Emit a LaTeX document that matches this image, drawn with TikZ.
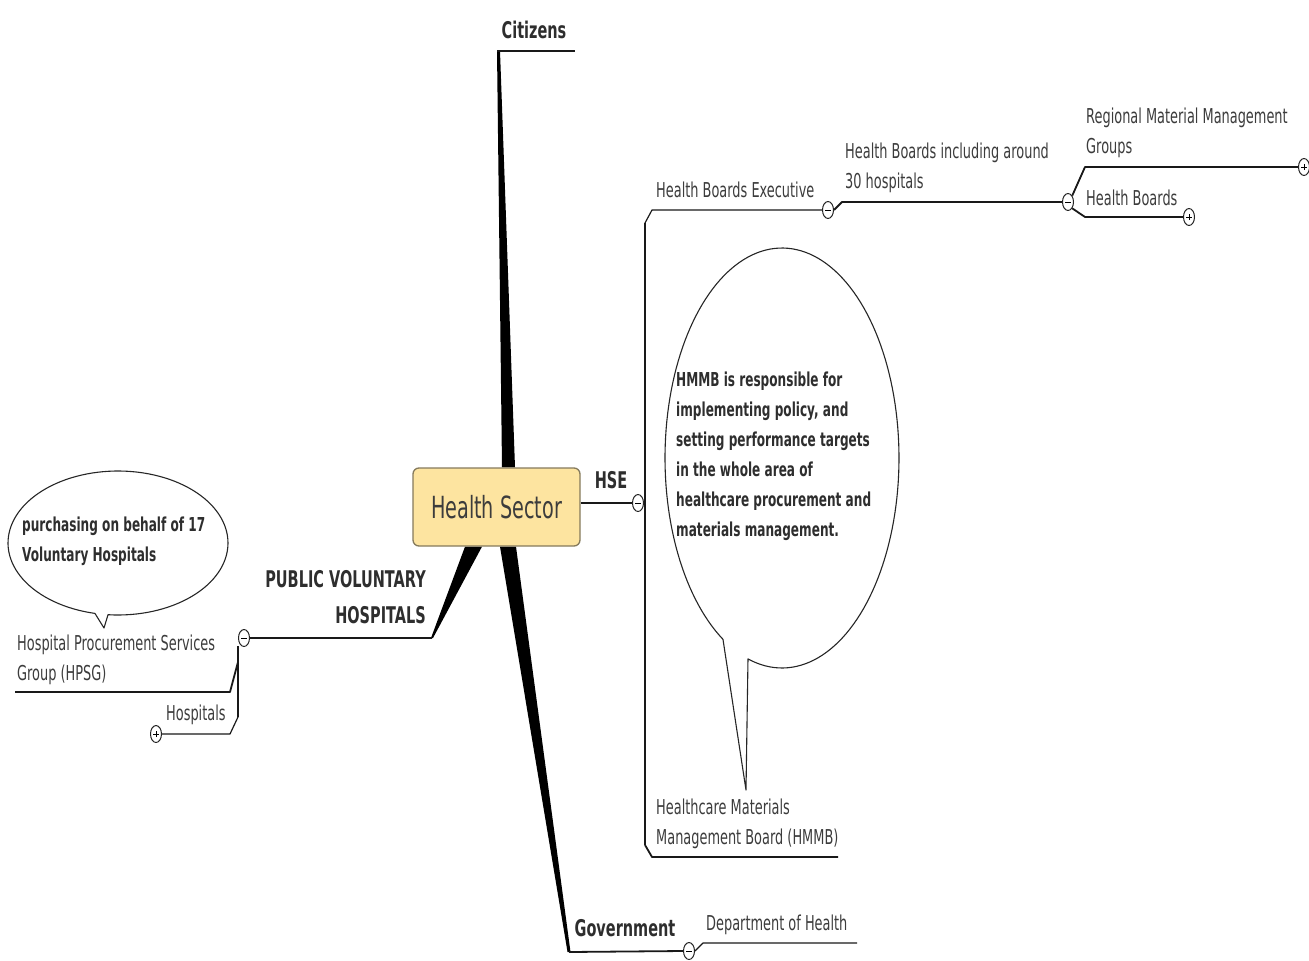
\documentclass[tikz,border=0pt]{standalone}
\usepackage{fontspec}
\setmainfont{DejaVu Sans}[FakeStretch=0.63, BoldFeatures={FakeStretch=0.63}]
\usetikzlibrary{shapes.geometric,backgrounds}
\definecolor{txt}{HTML}{2E2E2E}
\definecolor{subtxt}{HTML}{3C3C3C}
\definecolor{hsfill}{HTML}{FDE4A0}
\definecolor{hsline}{HTML}{857A5C}
\tikzset{
  conn/.style={draw=black!90, line width=1.8pt},
  thin conn/.style={draw=black!90, line width=1.2pt},
  branch/.style={fill=black},
  hub/.style={draw=hsline, fill=hsfill, rounded corners=6pt, line width=1.3pt,
    minimum width=167pt, minimum height=78pt, font=\fontsize{30.5}{34}\selectfont, text=subtxt},
  mainlab/.style={font=\bfseries\fontsize{23}{36}\selectfont, text=txt, inner sep=0pt},
  sublab/.style={font=\fontsize{20.5}{30}\selectfont, text=subtxt, inner sep=0pt, anchor=west, align=left},
  calltext/.style={font=\bfseries\fontsize{19.2}{30}\selectfont, text=txt, inner sep=0pt, anchor=west, align=left},
  callout/.style={draw=black!85, line width=1.1pt, fill=white},
  tog/.style={ellipse, draw=black!85, fill=white, line width=1pt, inner sep=0pt,
    minimum width=11pt, minimum height=17pt},
}
\newcommand\minustog[2]{\node[tog] (#1) at (#2) {};
  \draw[line width=0.9pt] ([xshift=-3pt]#1.center) -- ([xshift=3pt]#1.center);}
\newcommand\plustog[2]{\node[tog] (#1) at (#2) {};
  \draw[line width=0.9pt] ([xshift=-3pt]#1.center) -- ([xshift=3pt]#1.center)
    ([yshift=-3pt]#1.center) -- ([yshift=3pt]#1.center);}
\begin{document}
\begin{tikzpicture}[x=1pt,y=-1pt,line join=round]
\useasboundingbox (0,0) rectangle (1309,961);

% central node
\node[hub] (hs) at (496.5,507) {Health Sector};

% tapered main branches
\coordinate (czEnd) at (497,51);
\coordinate (gvEnd) at (569,952);
\coordinate (pvEnd) at (432,638);
\begin{scope}[on background layer]
  \fill[branch] ([xshift=5.5pt]hs.north) -- (czEnd) -- ([xshift=3pt]czEnd) -- ([xshift=18.5pt]hs.north) -- cycle;
  \fill[branch] ([xshift=3.5pt]hs.south) -- ([xshift=-1.5pt]gvEnd) -- ([xshift=1.5pt]gvEnd) -- ([xshift=19.5pt]hs.south) -- cycle;
  \fill[branch] ([xshift=-31.5pt]hs.south) -- ([xshift=-1pt]pvEnd) -- ([xshift=1pt]pvEnd) -- ([xshift=-14.5pt]hs.south) -- cycle;
\end{scope}

% Citizens
\coordinate (cz2) at (575,51);
\draw[conn] (czEnd) -- (cz2);
\node[mainlab] (cit) at (534,30) {Citizens};

% Government
\minustog{tg}{689,951}
\draw[conn] (gvEnd) -- (tg.west);
\node[mainlab] (gov) at (625,928) {Government};
\coordinate (dh1) at (703,943);
\coordinate (dh2) at (857,943);
\draw[thin conn] (tg.east) -- (dh1) -- (dh2);
\node[sublab] (doh) at (706,925) {Department of Health};

% Public voluntary hospitals
\minustog{tp}{244,638}
\draw[conn] (pvEnd) -- (tp.east);
\node[mainlab, anchor=east, align=right] (pvh) at (426,597.5) {PUBLIC VOLUNTARY\\HOSPITALS};
\coordinate (v1) at (238,646);
\coordinate (v2) at (238,717);
\coordinate (hp1) at (238,662);
\coordinate (hp2) at (230,692);
\coordinate (hp3) at (15,692);
\draw[thin conn] (v1) -- (v2);
\draw[conn] (hp1) -- (hp2) -- (hp3);
\node[sublab] (hpsg) at (17,660) {Hospital Procurement Services\\Group (HPSG)};
\plustog{thosp}{156,734}
\coordinate (ho1) at (230,734);
\draw[thin conn] (v2) -- (ho1) -- (thosp.east);
\node[sublab] (hosp) at (166,715) {Hospitals};

% small callout
\draw[callout] (104,628) -- plot[domain=95.2:-257.9, samples=120] ({118+110*cos(\x)},{543+72*sin(\x)}) -- cycle;
\node[calltext] (c1) at (22,541) {purchasing on behalf of 17\\Voluntary Hospitals};

% HSE
\minustog{th}{638,503}
\draw[conn] (hs.east |- th.west) -- (th.west);
\node[mainlab] (hse) at (611,480) {HSE};
\coordinate (vt) at (645,223);
\coordinate (vb) at (645,845);
\draw[thin conn] (vt) -- (vb);
\minustog{tb}{828,210}
\coordinate (vt2) at (652,210);
\draw[thin conn] (vt) -- (vt2) -- (tb.west);
\node[sublab] (hbe) at (656,190) {Health Boards Executive};
\coordinate (vb2) at (652,857);
\coordinate (vb3) at (838,857);
\draw[conn] (vb) -- (vb2) -- (vb3);
\node[sublab] (hmmb) at (656,824) {Healthcare Materials\\Management Board (HMMB)};

% Health boards including 30 hospitals
\minustog{th2}{1068,202}
\coordinate (hb1) at (842,202);
\draw[conn] (tb.east) -- (hb1) -- (th2.west);
\node[sublab] (hb30) at (845,168) {Health Boards including around\\30 hospitals};

\plustog{tr}{1304,167}
\coordinate (rm1) at (1085,167);
\draw[conn] (th2.north east) -- (rm1) -- (tr.west);
\node[sublab] (rmmg) at (1086,133) {Regional Material Management\\Groups};

\plustog{tb2}{1189,217}
\coordinate (hb2) at (1085,217);
\draw[conn] (th2.south east) -- (hb2) -- (tb2.west);
\node[sublab] (hbs) at (1086,198) {Health Boards};

% big callout
\draw[callout] (746,790) -- plot[domain=106.9:-239.7, samples=160] ({782+117*cos(\x)},{458+210*sin(\x)}) -- cycle;
\node[calltext] (c2) at (676,456.5) {HMMB is responsible for\\implementing policy, and\\setting performance targets\\in the whole area of\\healthcare procurement and\\materials management.};
\end{tikzpicture}
\end{document}
